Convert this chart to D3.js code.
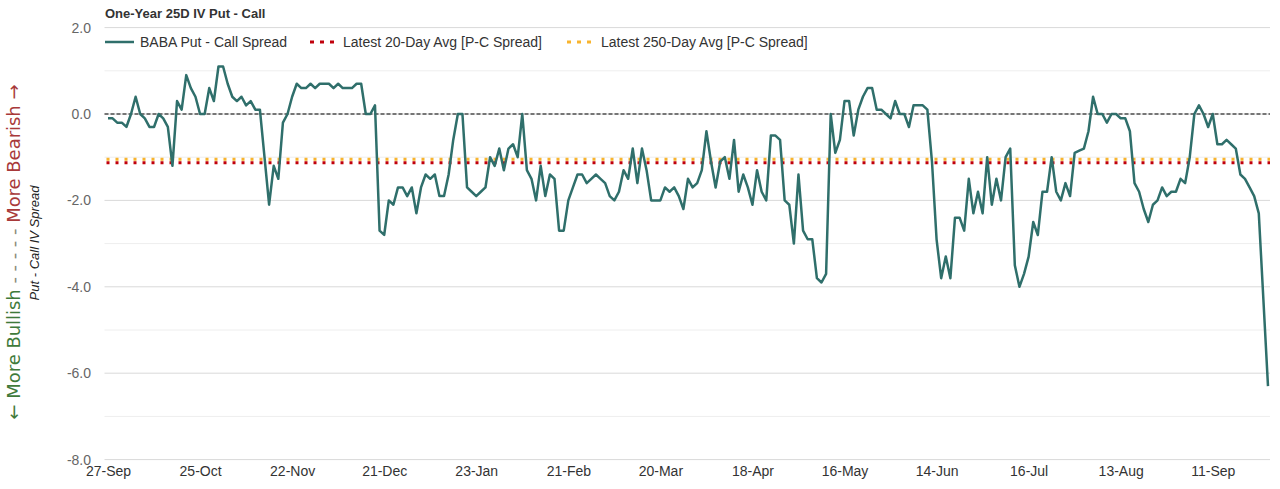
<!DOCTYPE html>
<html>
<head>
<meta charset="utf-8">
<script src="https://cdn.jsdelivr.net/npm/d3@7"></script>
<style>
  html, body { margin: 0; padding: 0; background: #fff; }
  svg { display: block; font-family: "Liberation Sans", Arial, sans-serif; }
</style>
</head>
<body>
<svg id="chart" width="1280" height="489"></svg>
<script>
// ---- Data ----
const seriesName = "BABA Put - Call Spread";
const spread = [
  -0.1,-0.1,-0.2,-0.2,-0.3,0.0,0.4,0.0,-0.1,-0.3,
  -0.3,0.0,-0.1,-0.3,-1.2,0.3,0.1,0.9,0.6,0.4,
  0.0,0.0,0.6,0.3,1.1,1.1,0.7,0.4,0.3,0.4,
  0.2,0.3,0.1,0.1,-1.0,-2.1,-1.2,-1.5,-0.2,0.0,
  0.4,0.7,0.6,0.6,0.7,0.6,0.7,0.7,0.7,0.6,
  0.7,0.6,0.6,0.6,0.7,0.7,0.0,0.0,0.2,-2.7,
  -2.8,-2.0,-2.1,-1.7,-1.7,-1.9,-1.7,-2.3,-1.7,-1.4,
  -1.5,-1.4,-1.9,-1.9,-1.4,-0.6,0.0,0.0,-1.7,-1.8,
  -1.9,-1.8,-1.7,-1.0,-1.2,-0.8,-1.3,-0.8,-0.7,-1.0,
  0.0,-1.3,-1.5,-2.0,-1.2,-1.9,-1.4,-1.5,-2.7,-2.7,
  -2.0,-1.7,-1.4,-1.4,-1.6,-1.5,-1.4,-1.5,-1.6,-1.9,
  -2.0,-1.8,-1.3,-1.5,-0.8,-1.6,-0.8,-1.3,-2.0,-2.0,
  -2.0,-1.7,-1.8,-1.7,-1.9,-2.2,-1.5,-1.7,-1.6,-1.3,
  -0.4,-1.1,-1.7,-1.1,-1.0,-1.5,-0.6,-1.8,-1.4,-1.7,
  -2.1,-1.3,-1.8,-2.0,-0.5,-0.5,-0.6,-2.0,-2.1,-3.0,
  -1.4,-2.7,-2.9,-2.9,-3.8,-3.9,-3.7,0.0,-0.9,-0.6,
  0.3,0.3,-0.5,0.1,0.4,0.6,0.6,0.1,0.1,0.0,
  -0.1,0.3,0.0,0.0,-0.3,0.2,0.2,0.2,0.1,-1.1,
  -2.9,-3.8,-3.3,-3.8,-2.4,-2.4,-2.7,-1.5,-2.3,-1.8,
  -2.3,-1.0,-2.1,-1.5,-2.0,-1.0,-0.8,-3.5,-4.0,-3.7,
  -3.3,-2.5,-2.8,-1.8,-1.8,-1.0,-1.8,-2.0,-1.6,-1.9,
  -0.9,-0.85,-0.8,-0.4,0.4,0.0,0.0,-0.2,0.0,0.0,
  -0.1,-0.1,-0.4,-1.6,-1.8,-2.2,-2.5,-2.1,-2.0,-1.7,
  -1.9,-1.8,-1.8,-1.5,-1.6,-1.0,0.0,0.2,0.0,-0.3,
  0.0,-0.7,-0.7,-0.6,-0.7,-0.8,-1.4,-1.5,-1.7,-1.9,
  -2.3,-4.3,-6.3
];
const avg20Name = "Latest 20-Day Avg [P-C Spread]";
const avg20 = -1.13;
const avg250Name = "Latest 250-Day Avg [P-C Spread]";
const avg250 = -1.05;
const xTickIndex = [0,20,40,60,80,100,120,140,160,180,200,220,240];
const xTickLabels = ["27-Sep","25-Oct","22-Nov","21-Dec","23-Jan","21-Feb","20-Mar","18-Apr","16-May","14-Jun","16-Jul","13-Aug","11-Sep"];
const yMajorTicks = [2,0,-2,-4,-6,-8];
const yMinorTicks = [1,-1,-3,-5,-7];
const title = "One-Year 25D IV Put - Call";

// ---- Layout ----
const svg = d3.select("#chart");
const plotLeft = 104.5, plotRight = 1270;
const x = d3.scaleLinear().domain([0, spread.length - 1]).range([108, 1268]);
const y = d3.scaleLinear().domain([-8, 2]).range([459.6, 27.6]);

const lineColor = "#2f6f6b";
const red = "#c0000b";
const orange = "#f8b42e";

// gridlines
const grid = svg.append("g");
grid.selectAll("line.minor").data(yMinorTicks).enter().append("line")
  .attr("x1", plotLeft).attr("x2", plotRight)
  .attr("y1", d => y(d)).attr("y2", d => y(d))
  .attr("stroke", "#eeeeee").attr("stroke-width", 1);
grid.selectAll("line.major").data(yMajorTicks).enter().append("line")
  .attr("x1", plotLeft).attr("x2", plotRight)
  .attr("y1", d => y(d)).attr("y2", d => y(d))
  .attr("stroke", "#d9d9d9").attr("stroke-width", 1);

// y axis labels
const fmt = d => d3.format(".1f")(d).replace("\u2212", "-");
const yAxis = d3.axisLeft(y).tickValues(yMajorTicks).tickFormat(fmt).tickSize(0).tickPadding(0);
svg.append("g").attr("transform", "translate(91,0)").call(yAxis)
  .call(g => g.select(".domain").remove())
  .call(g => g.selectAll("text").attr("fill", "#666").attr("font-size", 14)
    .attr("font-family", "Liberation Sans, Arial, sans-serif"));

// x axis labels
const xAxis = d3.axisBottom(x).tickValues(xTickIndex).tickFormat((d, i) => xTickLabels[i]).tickSize(0).tickPadding(0);
svg.append("g").attr("transform", "translate(0,466)").call(xAxis)
  .call(g => g.select(".domain").remove())
  .call(g => g.selectAll("text").attr("fill", "#333").attr("font-size", 14)
    .attr("font-family", "Liberation Sans, Arial, sans-serif"));

// average lines
svg.append("line").attr("x1", plotLeft + 2).attr("x2", plotRight)
  .attr("y1", y(avg250)).attr("y2", y(avg250))
  .attr("stroke", orange).attr("stroke-width", 3).attr("stroke-dasharray", "3,6");
svg.append("line").attr("x1", plotLeft + 2).attr("x2", plotRight)
  .attr("y1", y(avg20)).attr("y2", y(avg20))
  .attr("stroke", red).attr("stroke-width", 3).attr("stroke-dasharray", "3,6");

// zero line
svg.append("line").attr("x1", plotLeft).attr("x2", plotRight)
  .attr("y1", y(0)).attr("y2", y(0))
  .attr("stroke", "#000").attr("stroke-width", 1).attr("stroke-dasharray", "4,2");

// series line
const line = d3.line().x((d, i) => x(i)).y(d => y(d));
svg.append("path").datum(spread).attr("d", line)
  .attr("fill", "none").attr("stroke", lineColor).attr("stroke-width", 2.5)
  .attr("stroke-linejoin", "round");

// title
svg.append("text").attr("x", 105).attr("y", 18).text(title)
  .attr("font-size", 13).attr("font-weight", "bold").attr("fill", "#333");

// legend
const legY = 42;
const leg = svg.append("g").attr("font-size", 14).attr("fill", "#333");
leg.append("line").attr("x1", 105).attr("x2", 134).attr("y1", legY).attr("y2", legY)
  .attr("stroke", lineColor).attr("stroke-width", 2.5);
leg.append("text").attr("x", 140).attr("y", legY + 5).text(seriesName);
leg.append("line").attr("x1", 310).attr("x2", 334).attr("y1", legY).attr("y2", legY)
  .attr("stroke", red).attr("stroke-width", 3).attr("stroke-dasharray", "4,6");
leg.append("text").attr("x", 343).attr("y", legY + 5).text(avg20Name);
leg.append("line").attr("x1", 567).attr("x2", 591).attr("y1", legY).attr("y2", legY)
  .attr("stroke", orange).attr("stroke-width", 3).attr("stroke-dasharray", "4,6");
leg.append("text").attr("x", 601).attr("y", legY + 5).text(avg250Name);

// left side labels
const side = svg.append("text")
  .attr("transform", "translate(20,252) rotate(-90)")
  .attr("text-anchor", "middle").attr("font-size", 18)
  .attr("font-family", "DejaVu Sans, Liberation Sans, sans-serif")
  .attr("textLength", 335).attr("lengthAdjust", "spacing");
side.append("tspan").attr("fill", "#3f7a3a").text("← More Bullish");
side.append("tspan").attr("fill", "#8a8a7a").text(" - - - - - ");
side.append("tspan").attr("fill", "#a8393a").text("More Bearish →");

svg.append("text")
  .attr("transform", "translate(39,243) rotate(-90)")
  .attr("text-anchor", "middle").attr("font-size", 13).attr("font-style", "italic")
  .attr("fill", "#222").text("Put - Call IV Spread");
</script>
</body>
</html>
